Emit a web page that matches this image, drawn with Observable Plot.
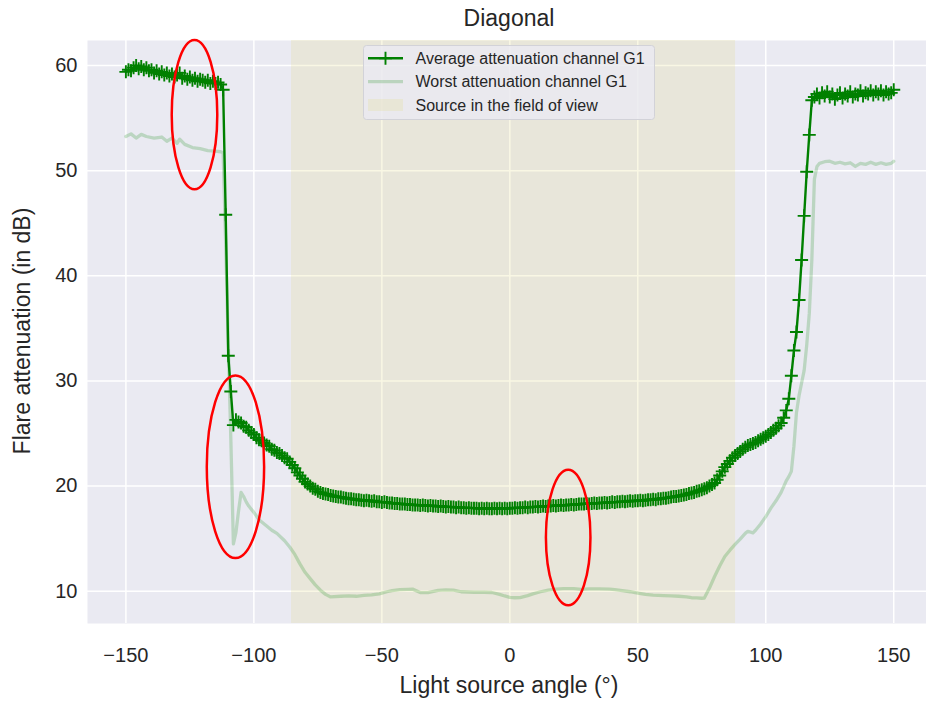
<!DOCTYPE html>
<html><head><meta charset="utf-8">
<script src="https://cdn.jsdelivr.net/npm/d3@7"></script>
<script src="https://cdn.jsdelivr.net/npm/@observablehq/plot@0.6"></script>
<style>
html,body{margin:0;padding:0;background:#fff;overflow:hidden;}
#chart{position:relative;width:926px;height:701px;}
</style></head><body><div id="chart"></div>
<script>
// ---- data ----
const xTicks = [-150, -100, -50, 0, 50, 100, 150];
const yTicks = [10, 20, 30, 40, 50, 60];

// Average attenuation channel G1, one value per degree from -150 to 150
const avgAngles = d3.range(-150, 151, 1);
const avgValues = [
  59.4, 59.6, 59.5, 59.8, 60.0, 59.7, 59.9, 59.6, 59.8, 59.5,      // -150..-141
  59.6, 59.3, 59.5, 59.2, 59.4, 59.1, 59.3, 59.0, 59.2, 58.9,      // -140..-131
  59.1, 59.3, 58.8, 59.0, 58.7, 58.9, 58.6, 58.8, 58.5, 58.7,      // -130..-121
  58.6, 58.4, 58.6, 58.3, 58.5, 58.3, 58.4, 58.2, 57.7, 45.8,      // -120..-111
  32.4, 29.0, 25.8, 26.3, 26.1, 26.0, 25.7, 25.6, 25.3, 25.1,      // -110..-101
  24.9, 24.6, 24.4, 24.3, 24.1, 23.9, 23.8, 23.5, 23.4, 23.2,      // -100..-91
  23.1, 22.9, 22.7, 22.6, 22.3, 22.0, 21.7, 21.3, 21.0, 20.7,      // -90..-81
  20.4, 20.2, 20.0, 19.8, 19.7, 19.5, 19.4, 19.3, 19.25, 19.2,     // -80..-71
  19.1, 19.05, 19.0, 18.95, 18.95, 18.9, 18.85, 18.8, 18.8, 18.75, // -70..-61
  18.7, 18.7, 18.65, 18.6, 18.65, 18.6, 18.55, 18.6, 18.5, 18.5,   // -60..-51
  18.45, 18.5, 18.45, 18.4, 18.4, 18.35, 18.35, 18.3, 18.3, 18.3,  // -50..-41
  18.25, 18.25, 18.2, 18.2, 18.2, 18.15, 18.2, 18.15, 18.1, 18.15, // -40..-31
  18.1, 18.1, 18.05, 18.1, 18.05, 18.0, 18.05, 18.0, 18.0, 17.95,  // -30..-21
  18.0, 17.95, 17.95, 17.9, 17.95, 17.9, 17.9, 17.9, 17.85, 17.9,  // -20..-11
  17.85, 17.9, 17.85, 17.85, 17.9, 17.85, 17.9, 17.85, 17.9, 17.85,// -10..-1
  17.9, 17.9, 17.95, 17.9, 17.95, 17.95, 18.0, 17.95, 18.0, 18.0,  // 0..9
  18.05, 18.0, 18.05, 18.1, 18.05, 18.1, 18.1, 18.15, 18.1, 18.15, // 10..19
  18.2, 18.15, 18.2, 18.2, 18.25, 18.2, 18.25, 18.3, 18.3, 18.3,   // 20..29
  18.35, 18.3, 18.35, 18.4, 18.35, 18.4, 18.4, 18.45, 18.4, 18.45, // 30..39
  18.5, 18.45, 18.5, 18.5, 18.55, 18.5, 18.55, 18.6, 18.55, 18.6,  // 40..49
  18.6, 18.65, 18.6, 18.65, 18.7, 18.7, 18.75, 18.7, 18.8, 18.8,   // 50..59
  18.85, 18.85, 18.9, 18.95, 19.0, 19.0, 19.05, 19.1, 19.15, 19.2, // 60..69
  19.3, 19.35, 19.4, 19.5, 19.55, 19.65, 19.75, 19.85, 20.0, 20.15,// 70..79
  20.3, 20.6, 21.0, 21.4, 21.8, 22.1, 22.4, 22.7, 22.9, 23.1,      // 80..89
  23.3, 23.5, 23.7, 23.85, 23.95, 24.05, 24.15, 24.3, 24.45, 24.6, // 90..99
  24.75, 24.9, 25.1, 25.3, 25.5, 25.75, 26.0, 26.5, 27.2, 28.3,    // 100..109
  30.5, 32.9, 34.65, 37.7, 41.5, 45.7, 49.9, 53.4, 56.7, 57.0,     // 110..119
  57.3, 56.9, 57.4, 57.1, 57.5, 57.0, 57.3, 56.8, 57.2, 57.4,      // 120..129
  56.9, 57.3, 57.1, 57.5, 57.0, 57.3, 57.2, 57.6, 57.1, 57.4,      // 130..139
  57.3, 57.6, 57.2, 57.5, 57.3, 57.6, 57.2, 57.5, 57.3, 57.4,      // 140..149
  57.7                                                             // 150
];

// Worst attenuation channel G1
const worstAngles = [
  -150, -148, -146, -144, -142, -139, -136, -134, -132, -130, -129, -127, -124, -121, -118, -115, -113, -112,
  -111, -110, -109, -108, -107, -106, -105, -104, -103, -102, -100, -98, -95, -93, -91, -88, -86, -84, -82,
  -80, -78, -76, -74, -72, -70, -66, -63, -60, -57, -54, -51, -48, -46, -43, -40, -38, -35, -32, -28, -25,
  -22, -19, -14, -10, -7, -4, -2, 0, 2, 4, 7, 9, 12, 15, 18, 21, 25, 28, 31, 35, 39, 41, 44, 47, 50, 53, 56,
  60, 63, 66, 69, 71, 73, 75, 76, 78, 80, 82, 84, 86, 88, 90, 92, 93, 95, 96, 98, 100, 102, 104, 106, 108,
  109, 110, 111, 112, 113, 114, 115, 116, 117, 118, 119, 120, 121, 123, 125, 127, 129, 131, 133, 135, 137,
  139, 141, 143, 145, 147, 149, 150
];
const worstValues = [
  53.25, 53.5, 53.1, 53.45, 53.25, 53.1, 53.2, 52.8, 53.1, 52.6, 53.0, 52.5, 52.2, 52.1, 51.9, 51.85, 51.8, 51.7,
  43.0, 33.5, 24.5, 14.5, 15.6, 17.6, 19.4, 19.0, 18.5, 18.1, 17.5, 16.8, 16.2, 15.8, 15.5, 14.8, 14.2, 13.5, 12.6,
  11.8, 11.2, 10.6, 10.1, 9.7, 9.46, 9.52, 9.55, 9.52, 9.6, 9.65, 9.75, 9.95, 10.05, 10.15, 10.18, 10.2, 9.88, 9.86, 10.08, 10.12,
  10.1, 9.95, 9.9, 9.9, 9.88, 9.7, 9.55, 9.42, 9.38, 9.4, 9.58, 9.75, 9.95, 10.1, 10.2, 10.25, 10.24, 10.18, 10.22, 10.22, 10.2, 10.15, 10.05, 9.95, 9.82, 9.7, 9.62,
  9.58, 9.55, 9.52, 9.46, 9.38, 9.36, 9.33, 9.35, 10.3, 11.4, 12.4, 13.3, 13.9, 14.45, 14.95, 15.5, 15.7, 15.55, 15.8, 16.4, 17.1, 17.9, 18.6, 19.4, 20.5,
  20.9, 21.4, 23.8, 27.0, 28.6, 29.8, 31.0, 33.4, 36.4, 41.5, 49.2, 50.4, 50.7, 50.85, 50.9, 50.7, 50.8, 50.65, 50.75, 50.4, 50.7,
  50.6, 50.8, 50.6, 50.75, 50.6, 50.7, 50.9
];

// Source in the field of view (angle span)
const fovFrom = -85.3;
const fovTo = 88.2;

// Red annotation ellipses (centre angle, centre dB, half-width in degrees, half-height in dB)
const annAngles = [-123.0, -107.0, 23.0];
const annDb = [55.28, 21.79, 15.06];
const annHalfWidth = [8.9, 11.2, 8.7];
const annHalfHeight = [7.1, 8.68, 6.45];

const legendLabels = ["Average attenuation channel G1", "Worst attenuation channel G1", "Source in the field of view"];

// ---- tables ----
const avg = avgAngles.map((a, i) => ({angle: a, value: avgValues[i]}));
const worst = worstAngles.map((a, i) => ({angle: a, value: worstValues[i]}));
const fov = [{from: fovFrom, to: fovTo}];
const ann = annAngles.map((a, i) => ({angle: a, db: annDb[i], hw: annHalfWidth[i], hh: annHalfHeight[i]}));

const GREEN = "#008000";
const SPAN_FILL = "#e5dc85";
const SPAN_OPACITY = 0.22;

const plusSymbol = {
  draw(ctx, size) {
    const r = Math.sqrt(size / Math.PI);
    ctx.moveTo(-r, 0); ctx.lineTo(r, 0);
    ctx.moveTo(0, -r); ctx.lineTo(0, r);
  }
};

const ellipseMark = (index, scales) => {
  const g = d3.create("svg:g");
  for (const e of ann) {
    const cx = scales.x(e.angle), cy = scales.y(e.db);
    const rx = Math.abs(scales.x(e.angle + e.hw) - cx);
    const ry = Math.abs(scales.y(e.db + e.hh) - cy);
    g.append("ellipse").attr("cx", cx).attr("cy", cy).attr("rx", rx).attr("ry", ry)
      .attr("fill", "none").attr("stroke", "#ff0000").attr("stroke-width", 2.5);
  }
  return g.node();
};

const chart = Plot.plot({
  width: 926, height: 701,
  marginTop: 40, marginBottom: 78, marginLeft: 87, marginRight: 0,
  style: {fontFamily: "'Liberation Sans', Arial, sans-serif", fontSize: "20px", color: "#262626", background: "#ffffff", overflow: "visible"},
  x: {domain: [-165, 162.8], ticks: xTicks, tickSize: 0, tickPadding: 24, label: null},
  y: {domain: [6.93, 62.38], ticks: yTicks, tickSize: 0, tickPadding: 10, label: null},
  marks: [
    Plot.frame({fill: "#EAEAF2", stroke: "none"}),
    Plot.ruleX(xTicks, {stroke: "#ffffff", strokeWidth: 1.5}),
    Plot.ruleY(yTicks, {stroke: "#ffffff", strokeWidth: 1.5}),
    Plot.barX(fov, {x1: "from", x2: "to", fill: SPAN_FILL, fillOpacity: SPAN_OPACITY}),
    Plot.line(worst, {x: "angle", y: "value", stroke: GREEN, strokeOpacity: 0.2, strokeWidth: 3.3}),
    Plot.line(avg, {x: "angle", y: "value", stroke: GREEN, strokeWidth: 2.4}),
    Plot.dot(avg, {x: "angle", y: "value", symbol: plusSymbol, r: 6.5, stroke: GREEN, strokeWidth: 1.9, fill: "none"}),
    ellipseMark
  ]
});

document.getElementById("chart").appendChild(chart);

// ---- texts and legend ----
const svg = d3.select(chart);
const FONT = "'Liberation Sans', Arial, sans-serif";
svg.append("text").text("Diagonal")
  .attr("x", 509).attr("y", 26).attr("text-anchor", "middle")
  .attr("font-family", FONT).attr("font-size", 23).attr("fill", "#262626");
svg.append("text").text("Light source angle (°)")
  .attr("x", 509).attr("y", 693).attr("text-anchor", "middle")
  .attr("font-family", FONT).attr("font-size", 23).attr("fill", "#262626");
svg.append("text").text("Flare attenuation (in dB)")
  .attr("transform", "translate(30,331) rotate(-90)").attr("text-anchor", "middle")
  .attr("font-family", FONT).attr("font-size", 23).attr("fill", "#262626");

const lg = svg.append("g");
lg.append("rect").attr("x", 363.5).attr("y", 45.5).attr("width", 291).attr("height", 74).attr("rx", 3)
  .attr("fill", "#EAEAF2").attr("fill-opacity", 0.8).attr("stroke", "#d2d2d8").attr("stroke-width", 1);
const rowY = [58.3, 81.7, 105];
// entry 1
lg.append("line").attr("x1", 368).attr("x2", 403).attr("y1", rowY[0]).attr("y2", rowY[0])
  .attr("stroke", GREEN).attr("stroke-width", 2.4);
lg.append("path").attr("d", `M${385.5 - 6.5},${rowY[0]}H${385.5 + 6.5}M385.5,${rowY[0] - 6.5}V${rowY[0] + 6.5}`)
  .attr("stroke", GREEN).attr("stroke-width", 1.9).attr("fill", "none");
// entry 2
lg.append("line").attr("x1", 368).attr("x2", 403).attr("y1", rowY[1]).attr("y2", rowY[1])
  .attr("stroke", GREEN).attr("stroke-opacity", 0.2).attr("stroke-width", 3.3);
// entry 3
lg.append("rect").attr("x", 368).attr("y", rowY[2] - 6).attr("width", 35).attr("height", 12)
  .attr("fill", SPAN_FILL).attr("fill-opacity", SPAN_OPACITY);
legendLabels.forEach((t, i) => {
  lg.append("text").text(t).attr("x", 415.5).attr("y", rowY[i]).attr("dy", "0.35em")
    .attr("text-anchor", "start")
    .attr("font-family", FONT).attr("font-size", 16).attr("fill", "#262626");
});
</script>
</body></html>
